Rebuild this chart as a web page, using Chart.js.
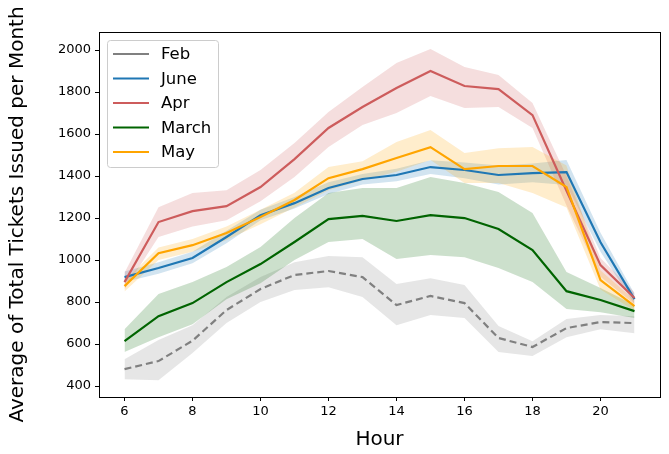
<!DOCTYPE html>
<html>
<head>
<meta charset="utf-8">
<script src="https://cdn.jsdelivr.net/npm/chart.js@4.4.1/dist/chart.umd.min.js"></script>
<style>
  html, body { margin: 0; padding: 0; background: #fff; }
  #wrap { width: 669px; height: 454px; }
</style>
</head>
<body>
<div id="wrap"><canvas id="c" width="669" height="454"></canvas></div>
<script>
// Soat bo'yicha oylik o'rtacha chiptalar (chiziq + ishonch oralig'i)
const hours = [6, 7, 8, 9, 10, 11, 12, 13, 14, 15, 16, 17, 18, 19, 20, 21];
const xTicks = [6, 8, 10, 12, 14, 16, 18, 20];
const yTicks = [400, 600, 800, 1000, 1200, 1400, 1600, 1800, 2000];

const feb   = [481, 519, 616, 762, 862, 929, 948, 919, 786, 829, 795, 629, 586, 676, 705, 700];
const febLo = [433, 428, 557, 700, 800, 857, 871, 824, 690, 738, 724, 562, 543, 633, 671, 652];
const febHi = [528, 619, 690, 824, 919, 990, 1019, 1014, 886, 914, 881, 686, 614, 719, 738, 733];

const june   = [919, 962, 1010, 1110, 1214, 1271, 1343, 1386, 1405, 1443, 1429, 1405, 1414, 1419, 1085, 814];
const juneLo = [895, 935, 985, 1080, 1190, 1245, 1315, 1360, 1375, 1410, 1390, 1360, 1370, 1357, 1040, 790];
const juneHi = [945, 990, 1040, 1140, 1240, 1300, 1370, 1410, 1435, 1475, 1465, 1450, 1460, 1476, 1130, 840];

const apr   = [895, 1181, 1233, 1257, 1348, 1481, 1629, 1729, 1819, 1900, 1829, 1814, 1690, 1330, 976, 819];
const aprLo = [860, 1110, 1160, 1190, 1280, 1395, 1538, 1643, 1700, 1781, 1724, 1729, 1629, 1260, 920, 790];
const aprHi = [940, 1252, 1319, 1333, 1429, 1557, 1705, 1824, 1938, 2005, 1919, 1881, 1748, 1400, 1010, 845];

const march   = [614, 733, 795, 895, 981, 1086, 1195, 1210, 1186, 1214, 1200, 1148, 1048, 852, 810, 757];
const marchLo = [562, 633, 695, 814, 890, 1000, 1086, 1100, 1005, 1024, 1014, 962, 895, 767, 752, 724];
const marchHi = [671, 838, 895, 967, 1062, 1200, 1319, 1343, 1343, 1395, 1367, 1324, 1224, 943, 867, 786];

const may   = [876, 1033, 1071, 1129, 1205, 1286, 1390, 1433, 1486, 1538, 1433, 1448, 1448, 1348, 905, 781];
const mayLo = [850, 1000, 1040, 1095, 1170, 1250, 1333, 1380, 1420, 1476, 1367, 1367, 1319, 1250, 860, 760];
const mayHi = [900, 1060, 1100, 1160, 1240, 1320, 1443, 1470, 1562, 1619, 1510, 1533, 1538, 1450, 950, 810];

const series = [
  { label: "Feb",   data: feb,   lo: febLo,   hi: febHi,   color: "#808080", rgb: "128,128,128", dash: [7, 4] },
  { label: "June",  data: june,  lo: juneLo,  hi: juneHi,  color: "#1f77b4", rgb: "31,119,180" },
  { label: "Apr",   data: apr,   lo: aprLo,   hi: aprHi,   color: "#cd5c5c", rgb: "205,92,92" },
  { label: "March", data: march, lo: marchLo, hi: marchHi, color: "#006400", rgb: "0,100,0" },
  { label: "May",   data: may,   lo: mayLo,   hi: mayHi,   color: "#ffa500", rgb: "255,165,0" },
];

const pts = (arr) => arr.map((v, i) => ({ x: hours[i], y: v }));

const datasets = [];
series.forEach((s, k) => {
  const base = datasets.length;
  datasets.push({
    label: s.label + " hi", data: pts(s.hi), borderWidth: 0, pointRadius: 0,
    backgroundColor: `rgba(${s.rgb},0.2)`, fill: { target: base + 1 }, order: 20 - k,
  });
  datasets.push({
    label: s.label + " lo", data: pts(s.lo), borderWidth: 0, pointRadius: 0,
    fill: false, order: 20 - k,
  });
});
series.forEach((s, k) => {
  datasets.push({
    label: s.label, data: pts(s.data), borderColor: s.color, borderWidth: 2.2,
    borderDash: s.dash || [], pointRadius: 0, fill: false, tension: 0, order: 10 - k,
  });
});

const FONT = "'DejaVu Sans', sans-serif";

const frame = {
  id: "frame",
  afterDraw(chart) {
    const { ctx, chartArea: a } = chart;
    ctx.save();
    ctx.strokeStyle = "#000";
    ctx.lineWidth = 1;
    ctx.strokeRect(Math.round(a.left) + 0.5, Math.round(a.top) + 0.5,
      Math.round(a.right - a.left), Math.round(a.bottom - a.top));

    // legend
    const bx = 107.5, by = 40.5, bw = 111, bh = 127;
    ctx.fillStyle = "rgba(255,255,255,0.8)";
    ctx.strokeStyle = "#cccccc";
    ctx.beginPath();
    ctx.roundRect(bx, by, bw, bh, 3);
    ctx.fill();
    ctx.stroke();
    ctx.font = "16.5px " + FONT;
    ctx.textBaseline = "middle";
    series.forEach((s, i) => {
      const y = 54 + i * 24.5;
      ctx.strokeStyle = s.color;
      ctx.lineWidth = 2.2;
      ctx.setLineDash([]);
      ctx.beginPath();
      ctx.moveTo(113, y);
      ctx.lineTo(149, y);
      ctx.stroke();
      ctx.fillStyle = "#000";
      ctx.fillText(s.label, 161, y + 1);
    });
    ctx.restore();
  },
};

new Chart(document.getElementById("c"), {
  type: "line",
  data: { datasets },
  plugins: [frame],
  options: {
    responsive: false,
    animation: false,
    layout: { padding: { left: 0, top: 32, right: 9, bottom: 0 } },
    plugins: { legend: { display: false }, tooltip: { enabled: false } },
    scales: {
      x: {
        type: "linear", min: 5.25, max: 21.75,
        afterBuildTicks: (sc) => { sc.ticks = xTicks.map((v) => ({ value: v })); },
        afterFit: (sc) => { sc.height = 57; },
        grid: { display: true, drawOnChartArea: false, tickLength: 4, tickColor: "#000" },
        border: { display: false },
        ticks: { color: "#000", font: { family: FONT, size: 13 }, padding: 3, maxRotation: 0, callback: (v) => String(v) },
        title: { display: true, text: "Hour", color: "#000", font: { family: FONT, size: 20 }, padding: { top: 0, bottom: 2 } },
      },
      y: {
        type: "linear", min: 348, max: 2086,
        afterBuildTicks: (sc) => { sc.ticks = yTicks.map((v) => ({ value: v })); },
        afterFit: (sc) => { sc.width = 99; },
        grid: { display: true, drawOnChartArea: false, tickLength: 4, tickColor: "#000" },
        border: { display: false },
        ticks: { color: "#000", font: { family: FONT, size: 13 }, padding: 4, callback: (v) => String(v) },
        title: { display: true, text: "Average of Total Tickets Issued per Month", color: "#000", font: { family: FONT, size: 20 }, padding: { top: 6, bottom: 0 } },
      },
    },
  },
});
</script>
</body>
</html>
